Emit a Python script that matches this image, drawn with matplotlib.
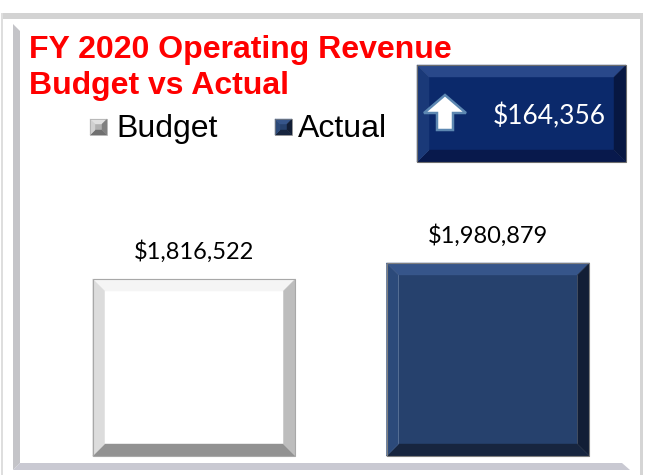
import matplotlib
matplotlib.use("Agg")
import matplotlib.pyplot as plt
from matplotlib.patches import Polygon, Rectangle

# data
categories = ["Budget", "Actual"]
revenue = [1816522, 1980879]
revenue_labels = ["$1,816,522", "$1,980,879"]
variance_label = "$164,356"
title_lines = ["FY 2020 Operating Revenue", "Budget vs Actual"]

BUDGET_COLORS = dict(face="#ffffff", top="#f5f5f5", left="#dcdcdc", right="#bdbdbd", bottom="#929292", edge="#a8a8a8")
ACTUAL_COLORS = dict(face="#26416d", top="#36558a", left="#2c4a7a", right="#121e36", bottom="#17253f", edge="#7f7f7f")
BOX_COLORS = dict(face="#0b296b", top="#29488a", left="#1a3978", right="#071742", bottom="#08194c", edge="#6d6d6d")

W, H = 645, 475


def bevel(ax, x0, y0, x1, y1, bx, by, c, z=3, lw=0.8):
    # x0/y0 = left/bottom corner, x1/y1 = right/top corner in ax coords
    dy = by if y1 > y0 else -by
    ix0, ix1 = x0 + bx, x1 - bx
    iy0, iy1 = y0 + dy, y1 - dy
    faces = [
        ([(ix0, iy0), (ix1, iy0), (ix1, iy1), (ix0, iy1)], c["face"]),
        ([(x0, y1), (x1, y1), (ix1, iy1), (ix0, iy1)], c["top"]),
        ([(x0, y0), (x1, y0), (ix1, iy0), (ix0, iy0)], c["bottom"]),
        ([(x0, y0), (x0, y1), (ix0, iy1), (ix0, iy0)], c["left"]),
        ([(x1, y0), (x1, y1), (ix1, iy1), (ix1, iy0)], c["right"]),
    ]
    for pts, col in faces:
        ax.add_patch(Polygon(pts, closed=True, facecolor=col, edgecolor=col, lw=0.3, zorder=z))
    ax.add_patch(Rectangle((min(x0, x1), min(y0, y1)), abs(x1 - x0), abs(y1 - y0),
                           fill=False, edgecolor=c["edge"], lw=lw, zorder=z + 0.1))


fig = plt.figure(figsize=(W / 100, H / 100), dpi=100)
fig.patch.set_facecolor("white")

# background axes in pixel coords (y down) for frame, title, legend, callout
bg = fig.add_axes([0, 0, 1, 1])
bg.set_xlim(0, W)
bg.set_ylim(H, 0)
bg.axis("off")

# frame
bg.add_patch(Rectangle((2, 13), 641, 6, facecolor="#d3d3d3", edgecolor="none", zorder=1))
bg.add_patch(Rectangle((1, 13), 2, 462, facecolor="#dedede", edgecolor="none", zorder=1))
bg.add_patch(Rectangle((640, 13), 3, 462, facecolor="#d5d5d5", edgecolor="none", zorder=1))
bg.add_patch(Polygon([(13, 24), (20, 31), (20, 463), (13, 470)], facecolor="#c4c4c8", edgecolor="none", zorder=1))
bg.add_patch(Polygon([(13, 470), (20, 463), (622, 463), (630, 470)], facecolor="#c9c9d2", edgecolor="none", zorder=1))

# title
fp_title = dict(family="Liberation Sans", fontsize=23, fontweight="bold", color="#ff0000")
bg.text(29, 58, title_lines[0], va="baseline", ha="left", **fp_title)
bg.text(29, 94, title_lines[1], va="baseline", ha="left", **fp_title)

# legend
legend_x = [(90, 116), (275, 298)]
for (mx, tx), name, col in zip(legend_x, categories, [BUDGET_COLORS, ACTUAL_COLORS]):
    mk = dict(col)
    if name == "Budget":
        mk.update(face="#b0b0b0", top="#e0e0e0", left="#d0d0d0", right="#808080", bottom="#707070")
    bevel(bg, mx, 135, mx + 17, 119, 5, 5, mk, z=3, lw=0.5)
    bg.text(tx, 137, name, va="baseline", ha="left", family="Liberation Sans", fontsize=23, color="black")

# variance callout
bevel(bg, 417, 162, 626, 65, 12, 12, BOX_COLORS, z=3)
arrow = [(445, 95), (466, 113), (453, 113), (453, 130), (437, 130), (437, 113), (424, 113)]
bg.add_patch(Polygon(arrow, closed=True, facecolor="white", edgecolor="#5d88b2", lw=1.8, zorder=5))
bg.text(493, 124, variance_label, va="baseline", ha="left", family="Lato", fontsize=19, color="white", zorder=6)

# bar axes
ax = fig.add_axes([0, 0, 1, 1])
ax.patch.set_alpha(0)
ax.axis("off")
x_center, x_step = 194, 294
y_zero = 456
k = revenue[0] / (y_zero - 279)
ax.set_xlim(-x_center / x_step, (W - x_center) / x_step)
ax.set_ylim(-(H - y_zero) * k, y_zero * k)

bars = ax.bar(range(len(categories)), revenue, width=0.69, color="none", edgecolor="none")
bx, by = 12 / x_step, 12 * k
for bar, col, lab in zip(bars, [BUDGET_COLORS, ACTUAL_COLORS], revenue_labels):
    x0 = bar.get_x()
    x1 = x0 + bar.get_width()
    h = bar.get_height()
    bevel(ax, x0, 0, x1, h, bx, by, col, z=3)
    ax.text(x0 + bar.get_width() / 2, h + 20 * k, lab, ha="center", va="baseline",
            family="Lato", fontsize=17, color="black")

fig.savefig("out.png", dpi=100)
